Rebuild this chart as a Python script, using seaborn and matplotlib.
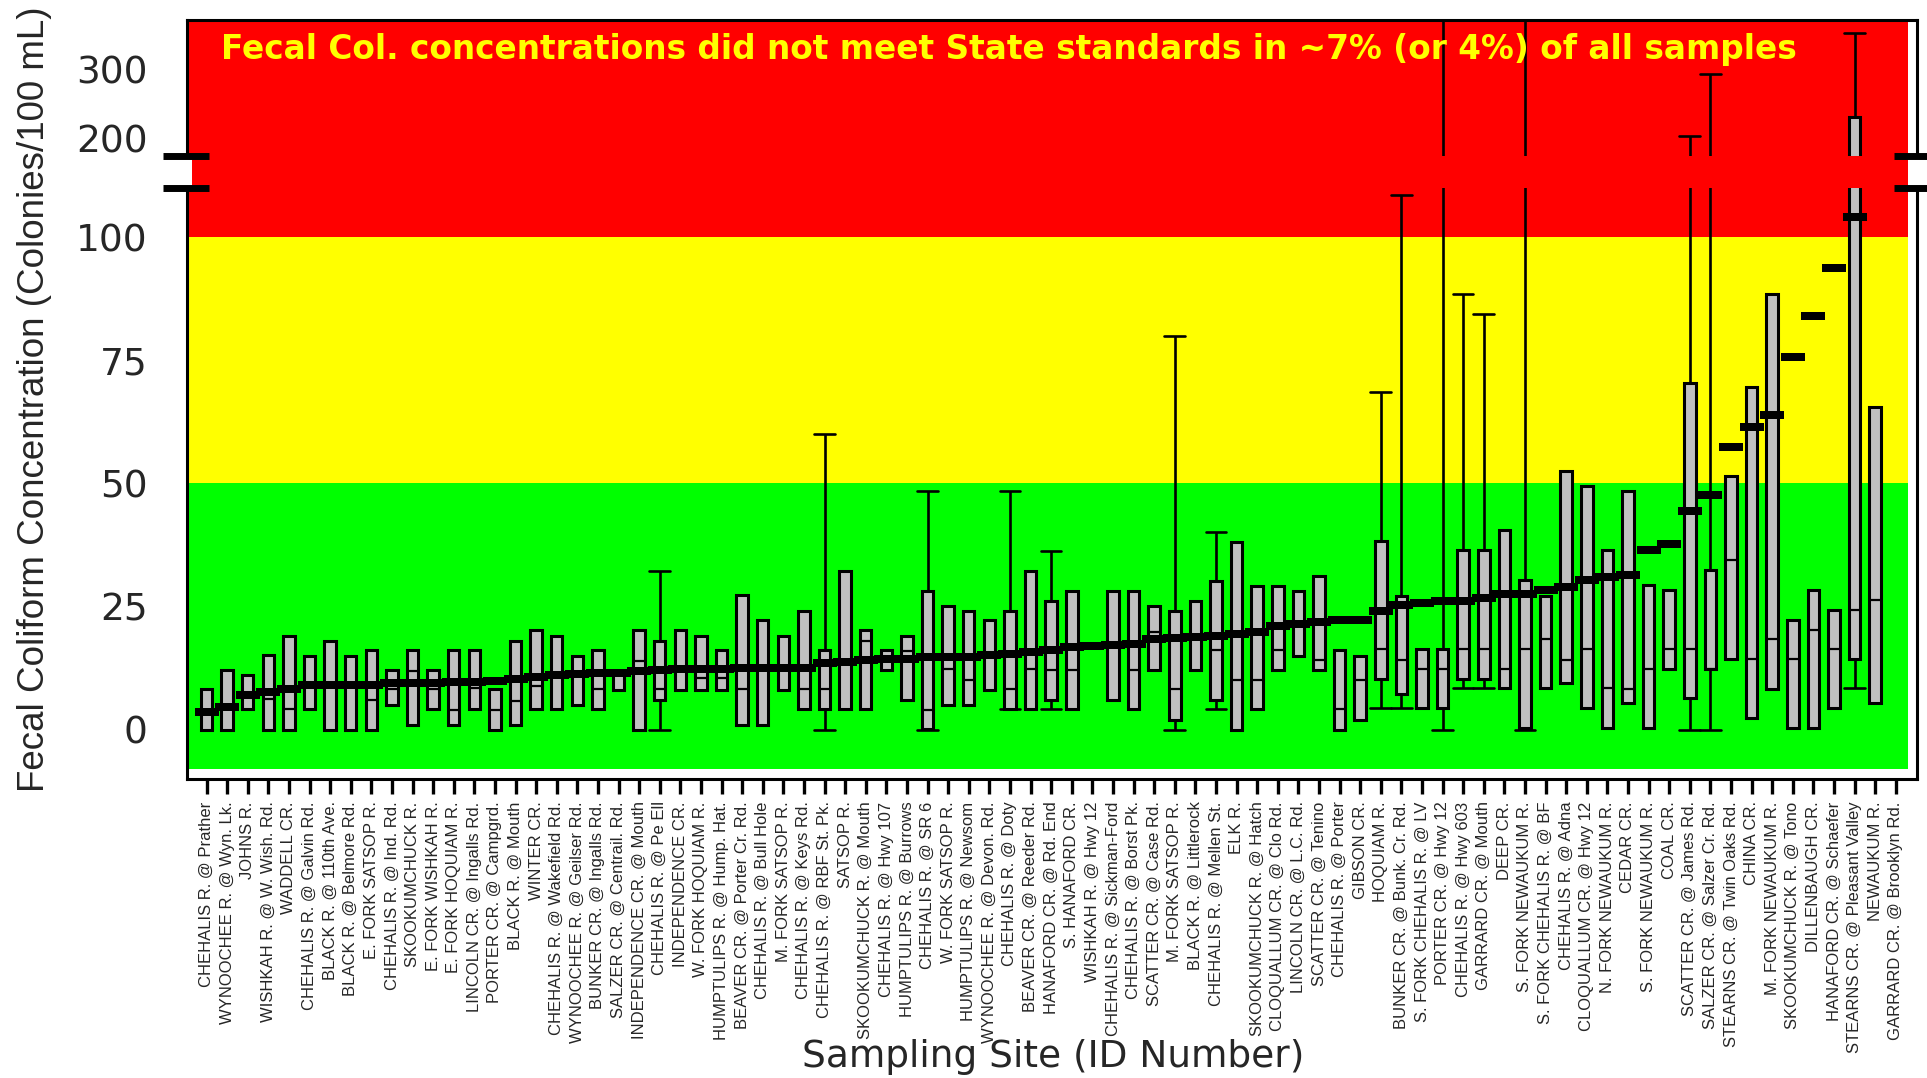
import numpy as np
import pandas as pd
import matplotlib
matplotlib.use("Agg")
import matplotlib.pyplot as plt
import matplotlib.transforms as mtransforms
from matplotlib.patches import Rectangle
from matplotlib.lines import Line2D
import seaborn as sns

# ---------------- data ----------------
site_names = [
    "CHEHALIS R. @ Prather", "WYNOOCHEE R. @ Wyn. Lk.", "JOHNS R.", "WISHKAH R. @ W. Wish. Rd.",
    "WADDELL CR.", "CHEHALIS R. @ Galvin Rd.", "BLACK R. @ 110th Ave.", "BLACK R. @ Belmore Rd.",
    "E. FORK SATSOP R.", "CHEHALIS R. @ Ind. Rd.", "SKOOKUMCHUCK R.", "E. FORK WISHKAH R.",
    "E. FORK HOQUIAM R.", "LINCOLN CR. @ Ingalls Rd.", "PORTER CR. @ Campgrd.", "BLACK R. @ Mouth",
    "WINTER CR.", "CHEHALIS R. @ Wakefield Rd.", "WYNOOCHEE R. @ Geilser Rd.", "BUNKER CR. @ Ingalls Rd.",
    "SALZER CR. @ Centrail. Rd.", "INDEPENDENCE CR. @ Mouth", "CHEHALIS R. @ Pe Ell", "INDEPENDENCE CR.",
    "W. FORK HOQUIAM R.", "HUMPTULIPS R. @ Hump. Hat.", "BEAVER CR. @ Porter Cr. Rd.", "CHEHALIS R. @ Bull Hole",
    "M. FORK SATSOP R.", "CHEHALIS R. @ Keys Rd.", "CHEHALIS R. @ RBF St. Pk.", "SATSOP R.",
    "SKOOKUMCHUCK R. @ Mouth", "CHEHALIS R. @ Hwy 107", "HUMPTULIPS R. @ Burrows", "CHEHALIS R. @ SR 6",
    "W. FORK SATSOP R.", "HUMPTULIPS R. @ Newsom", "WYNOOCHEE R. @ Devon. Rd.", "CHEHALIS R. @ Doty",
    "BEAVER CR. @ Reeder Rd.", "HANAFORD CR. @ Rd. End", "S. HANAFORD CR.", "WISHKAH R. @ Hwy 12",
    "CHEHALIS R. @ Sickman-Ford", "CHEHALIS R. @ Borst Pk.", "SCATTER CR. @ Case Rd.", "M. FORK SATSOP R.",
    "BLACK R. @ Littlerock", "CHEHALIS R. @ Mellen St.", "ELK R.", "SKOOKUMCHUCK R. @ Hatch",
    "CLOQUALLUM CR. @ Clo Rd.", "LINCOLN CR. @ L.C. Rd.", "SCATTER CR. @ Tenino", "CHEHALIS R. @ Porter",
    "GIBSON CR.", "HOQUIAM R.", "BUNKER CR. @ Bunk. Cr. Rd.", "S. FORK CHEHALIS R. @ LV",
    "PORTER CR. @ Hwy 12", "CHEHALIS R. @ Hwy 603", "GARRARD CR. @ Mouth", "DEEP CR.",
    "S. FORK NEWAUKUM R.", "S. FORK CHEHALIS R. @ BF", "CHEHALIS R. @ Adna", "CLOQUALLUM CR. @ Hwy 12",
    "N. FORK NEWAUKUM R.", "CEDAR CR.", "S. FORK NEWAUKUM R.", "COAL CR.",
    "SCATTER CR. @ James Rd.", "SALZER CR. @ Salzer Cr. Rd.", "STEARNS CR. @ Twin Oaks Rd.", "CHINA CR.",
    "M. FORK NEWAUKUM R.", "SKOOKUMCHUCK R. @ Tono", "DILLENBAUGH CR.", "HANAFORD CR. @ Schaefer",
    "STEARNS CR. @ Pleasant Valley", "NEWAUKUM R.", "GARRARD CR. @ Brooklyn Rd.",
]
site_ids = list(range(1, len(site_names) + 1))
nan = np.nan
whisk_lo = [0, 0, 4.1, 0, 0, 4.1, 0, 0, 0, 5, 0.9, 4.1, 0.9, 4.1, 0, 0.9, 4.1, 4.1, 5, 4.1,
            8, 0, 0, 8, 8, 8, 0.9, 0.9, 8, 4.1, 0, 4.1, 4.1, 12.1, 6, 0, 5, 5, 8, 4.1,
            4.1, 4.1, 4.1, nan, 6, 4.1, 12.1, 0, 12.1, 4.1, 0, 4.1, 12.1, 15, 12.1, 0, 2, 4.4, 4.4, 4.4,
            0, 8.5, 8.5, 8.5, 0, 8.5, 9.4, 4.4, 0.3, 5.4, 0.3, 12.4, 0, 0, 14.4, 2.4, 8.3, 0.3, 0.3, 4.4,
            8.5, 5.4, nan]
box_q1 = [0, 0, 4.1, 0, 0, 4.1, 0, 0, 0, 5, 0.9, 4.1, 0.9, 4.1, 0, 0.9, 4.1, 4.1, 5, 4.1,
          8, 0, 6, 8, 8, 8, 0.9, 0.9, 8, 4.1, 4.1, 4.1, 4.1, 12.1, 6, 0.1, 5, 5, 8, 4.1,
          4.1, 6, 4.1, nan, 6, 4.1, 12.1, 2, 12.1, 6, 0, 4.1, 12.1, 15, 12.1, 0, 2, 10.2, 7.3, 4.4,
          4.4, 10.2, 10.2, 8.5, 0.3, 8.5, 9.4, 4.4, 0.3, 5.4, 0.3, 12.4, 6.4, 12.4, 14.4, 2.4, 8.3, 0.3, 0.3, 4.4,
          14.4, 5.4, nan]
box_med = [3.5, 4.6, 7, 6.3, 4.1, 9, 9, 9, 6.1, 8.3, 11.9, 8.3, 3.9, 8.5, 3.9, 5.9, 8.9, 11.1, 11.3, 8.3,
           11.6, 14, 8.3, 12.3, 10.5, 10.5, 8.2, 12.6, 12.6, 8.2, 8.2, 13.8, 18.1, 14.3, 16, 3.9, 12.3, 10.1, 15.1, 8.2,
           12.4, 12.1, 12.1, nan, 17.2, 12.1, 19.9, 8.2, 18.8, 16.2, 10.1, 10.1, 16.1, 21.5, 14.2, 4.1, 10.1, 16.3, 14.2, 12.4,
           12.4, 16.3, 16.3, 12.4, 16.3, 18.4, 14.2, 16.3, 8.5, 8.3, 12.4, 16.3, 16.3, 12.4, 34.5, 14.4, 18.4, 14.4, 20.3, 16.3,
           24.4, 26.4, nan]
box_q3 = [8.2, 12.1, 11.1, 15.1, 19.1, 15, 18.1, 15, 16.1, 12.1, 16.1, 12.1, 16.1, 16.1, 8.2, 18.1, 20.2, 19.1, 15, 16.1,
          12, 20.2, 18.1, 20.2, 19.1, 16.1, 27.3, 22.2, 19.1, 24.1, 16.1, 32.2, 20.2, 16.1, 19.1, 28.2, 25.2, 24.1, 22.2, 24.1,
          32.2, 26.2, 28.2, nan, 28.2, 28.2, 25.2, 24.1, 26.2, 30.2, 38.2, 29.2, 29.2, 28.2, 31.2, 16.1, 15, 38.4, 27.2, 16.3,
          16.3, 36.4, 36.4, 40.5, 30.3, 27.2, 52.5, 49.4, 36.4, 48.4, 29.4, 28.4, 70.5, 32.4, 51.5, 69.5, 88.5, 22.2, 28.4, 24.4,
          231, 65.5, nan]
whisk_hi = [8.2, 12.1, 11.1, 15.1, 19.1, 15, 18.1, 15, 16.1, 12.1, 16.1, 12.1, 16.1, 16.1, 8.2, 18.1, 20.2, 19.1, 15, 16.1,
            12, 20.2, 32.2, 20.2, 19.1, 16.1, 27.3, 22.2, 19.1, 24.1, 60, 32.2, 20.2, 16.1, 19.1, 48.4, 25.2, 24.1, 22.2, 48.4,
            32.2, 36.2, 28.2, nan, 28.2, 28.2, 25.2, 80, 26.2, 40.2, 38.2, 29.2, 29.2, 28.2, 31.2, 16.1, 15, 68.5, 108.5, 16.3,
            500, 88.5, 84.5, 40.5, 500, 27.2, 52.5, 49.4, 36.4, 48.4, 29.4, 28.4, 204, 294, 51.5, 69.5, 88.5, 22.2, 28.4, 24.4,
            354, 65.5, nan]
geo_mean = [3.5, 4.6, 7.0, 7.6, 8.2, 9.0, 9.0, 9.0, 9.0, 9.5, 9.5, 9.5, 9.6, 9.7, 9.9, 10.2, 10.6, 11.1, 11.3, 11.6,
            11.6, 11.9, 12.1, 12.3, 12.3, 12.4, 12.6, 12.6, 12.6, 12.6, 13.6, 13.8, 14.2, 14.3, 14.3, 14.7, 14.7, 14.7, 15.1, 15.3,
            15.7, 16.2, 16.7, 16.9, 17.2, 17.4, 18.4, 18.6, 18.8, 19.0, 19.4, 19.8, 21.1, 21.5, 21.8, 22.2, 22.3, 24.0, 25.3, 25.7,
            26.2, 26.2, 26.8, 27.5, 27.5, 28.4, 29.0, 30.4, 31.0, 31.5, 36.5, 37.7, 44.5, 47.7, 57.5, 61.5, 64.0, 75.7, 84.0, 93.7,
            104.2, 130, 160]
whiskered_ids = [23, 31, 36, 40, 42, 48, 50, 58, 59, 61, 62, 63, 65, 73, 74, 81]
y_tick_values = [0, 25, 50, 75, 100, 200, 300]
zone_edges = [-8, 50, 100, 373]          # green / yellow / red limits
zone_colors = ["#00ff00", "#ffff00", "#ff0000"]
break_lo, break_hi = 110, 175
title_text = "Fecal Col. concentrations did not meet State standards in ~7% (or 4%) of all samples"

# ---------------- long-form table for seaborn ----------------
rows = []
for i, sid in enumerate(site_ids):
    if np.isnan(box_q1[i]):
        continue
    grp = "whisk" if sid in whiskered_ids else "plain"
    for v in (whisk_lo[i], box_q1[i], box_med[i], box_q3[i], whisk_hi[i]):
        rows.append({"site": sid, "val": v, "grp": grp})
df = pd.DataFrame(rows)
df_mean = pd.DataFrame({"site": site_ids, "gmean": geo_mean})

# ---------------- broken y scale ----------------
_xp = np.array([-1e4, break_lo, break_hi, 1e4])
_fp = np.array([-4e4, 4 * break_lo, 4 * break_lo + 0.4 * (break_hi - break_lo),
                4 * break_lo + 0.4 * (break_hi - break_lo) + 0.56 * (1e4 - break_hi)])
def fwd(v):
    return np.interp(v, _xp, _fp)
def inv(f):
    return np.interp(f, _fp, _xp)

sns.set_style("ticks")
plt.rcParams["font.family"] = ["Liberation Sans", "DejaVu Sans"]
wide_font = ["DejaVu Sans"]

fig = plt.figure(figsize=(19.27, 10.78), dpi=100)
ax = fig.add_axes([0.0969, 0.2775, 0.8979, 0.7043])
ax.set_yscale("function", functions=(fwd, inv))

XL = (-0.96, 83.03)
color_right = (82.58 - XL[0]) / (XL[1] - XL[0])
for (lo, hi), c in zip(zip(zone_edges[:-1], zone_edges[1:]), zone_colors):
    ax.axhspan(lo, hi, xmin=0, xmax=color_right, color=c, lw=0, zorder=0)

common = dict(x="site", y="val", order=site_ids, whis=(0, 100), width=0.56,
              color="#c0c0c0", saturation=1, linecolor="black", linewidth=2.2,
              fliersize=0, ax=ax,
              medianprops=dict(color="black", linewidth=1.6),
              whiskerprops=dict(color="black", linewidth=1.9),
              capprops=dict(color="black", linewidth=1.9))
sns.boxplot(data=df[df.grp == "plain"], showcaps=False, **common)
sns.boxplot(data=df[df.grp == "whisk"], showcaps=True, capwidths=1.0, **common)

bar_marker = [(-1, -0.35), (1, -0.35), (1, 0.35), (-1, 0.35), (-1, -0.35)]
sns.pointplot(data=df_mean, x="site", y="gmean", order=site_ids, color="black",
              linestyle="none", marker=bar_marker, markersize=17, markeredgewidth=0,
              errorbar=None, ax=ax, zorder=3)

# mask for the axis break
ax.axhspan(break_lo, break_hi, xmin=0, xmax=color_right, color="#ff0000", lw=0, zorder=3.5)

ax.set_xlim(*XL)
ax.set_ylim(-10, 373)
ax.set_yticks(y_tick_values)
ax.set_yticklabels([str(v) for v in y_tick_values], family=wide_font)
ax.set_xticks(range(len(site_ids)))
ax.set_xticklabels(site_names)

for sp in ax.spines.values():
    sp.set_visible(True)
    sp.set_linewidth(2.2)
    sp.set_color("black")

ax.tick_params(axis="x", direction="out", length=10.8, width=2.4, pad=5.5,
               labelsize=12, labelrotation=90, color="black")
ax.tick_params(axis="y", direction="out", length=0, width=1.5, pad=28, labelsize=27)

ax.set_xlabel("Sampling Site (ID Number)", fontsize=27, va="center", family=wide_font)
ax.xaxis.set_label_coords(0.501, -0.366)
ax.set_ylabel("Fecal Coliform Concentration (Colonies/100 mL)", fontsize=26.5, va="center")
ax.yaxis.set_label_coords(-0.088, 0.5)

ax.text(0.0198, 0.9600, title_text, transform=ax.transAxes, fontsize=23.6,
        fontweight="bold", color="#ffff00", ha="left", va="center", zorder=5,
        family=wide_font)

# break symbols on both vertical axes
btrans = mtransforms.blended_transform_factory(ax.transAxes, ax.transData)
for x0 in (0.0, 1.0):
    ax.add_patch(Rectangle((x0 - 0.003, break_lo), 0.006, break_hi - break_lo,
                           transform=btrans, facecolor="white", edgecolor="none",
                           clip_on=False, zorder=6))
for yb in (break_lo, break_hi):
    ax.add_line(Line2D([-0.0137, 0.0129], [yb, yb], transform=btrans, color="black",
                       lw=5, clip_on=False, zorder=7, solid_capstyle="butt"))
    ax.add_line(Line2D([0.9867, 1.0058], [yb, yb], transform=btrans, color="black",
                       lw=5, clip_on=False, zorder=7, solid_capstyle="butt"))

fig.savefig("out.png", dpi=100)
